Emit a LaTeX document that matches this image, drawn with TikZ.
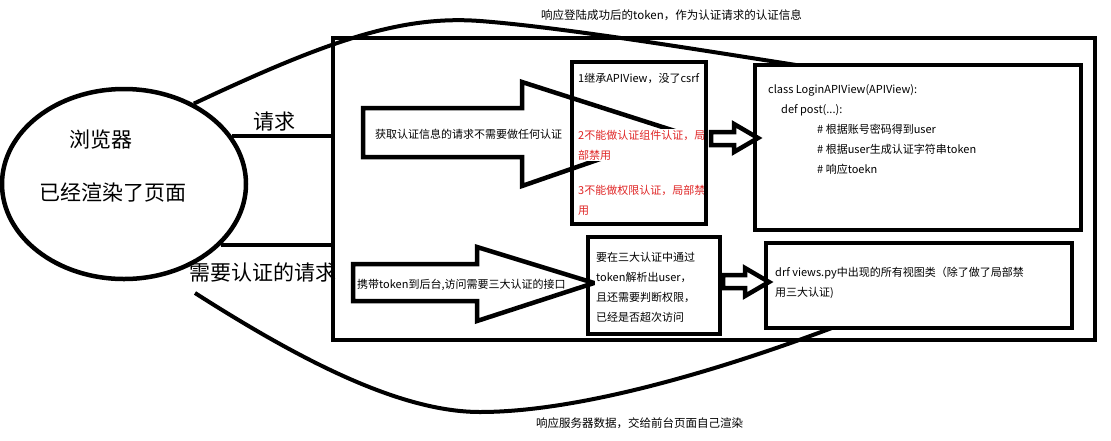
\documentclass[tikz,border=0pt]{standalone}
\usepackage{fontspec}
\setmainfont{Noto Sans CJK SC}
\usetikzlibrary{shapes.geometric,calc}
\definecolor{notered}{RGB}{224,38,38}

\begin{document}
\begin{tikzpicture}[x=1pt,y=1pt,
        box/.style={draw,black,line width=4.5pt,rectangle,outer sep=0pt},
        wire/.style={draw,black,line width=4pt},
        blockarrow/.style={draw,black,line width=4.5pt,line join=miter},
        small/.style={font=\fontsize{11}{20}\selectfont},
        label/.style={font=\fontsize{11.5}{14}\selectfont},
        big/.style={font=\fontsize{21}{25}\selectfont}]
        \tikzstyle{every node}+=[inner sep=0pt]
        \useasboundingbox (0,0) rectangle (1111,-440);
        \node [ellipse,draw,line width=4.5pt,minimum width=244,minimum height=190] (browser) at (124,-184) {};
        \node [box,minimum width=762,minimum height=302] (server) at (714,-189) {};
        \node [box,minimum width=134,minimum height=162] (inherit) at (639,-143) {};
        \node [box,minimum width=326,minimum height=165] (login) at (918,-147.5) {};
        \node [box,minimum width=132,minimum height=97] (auth) at (654,-285.5) {};
        \node [box,minimum width=306,minimum height=85] (drf) at (919,-285.5) {};
        \coordinate (renderstart) at (195,-293);
        \coordinate (tokenend) at ($(login.north west)!0.126!(login.north east)$);
        \coordinate (renderend) at ($(drf.south west)!0.215!(drf.south east)$);
        \draw [wire] (browser.24) -- (browser.24 -| server.west);
        \draw [wire] (browser.-32) -- (browser.-32 -| server.west);
        \draw [wire] (browser.49) .. controls (325,-42) and (400,-15) .. (480,-21) .. controls (560,-27) and (700,-50) .. (tokenend);
        \draw [wire] (renderstart) .. controls (300,-360) and (400,-412) .. (480,-412) .. controls (580,-412) and (720,-370) .. (renderend);
        \draw [blockarrow] (363,-108) -- (522,-108) -- (522,-82) -- (678,-132) -- (522,-186) -- (522,-157) -- (363,-157) -- cycle;
        \draw [blockarrow] (353,-264) -- (477,-264) -- (477,-247) -- (594,-283) -- (477,-321) -- (477,-301) -- (353,-301) -- cycle;
        \draw [blockarrow] (711,-132) -- (734,-132) -- (734,-124) -- (758,-138) -- (734,-152) -- (734,-145) -- (711,-145) -- cycle;
        \draw [blockarrow] (723,-275) -- (745,-275) -- (745,-268) -- (769,-282) -- (745,-296) -- (745,-288) -- (723,-288) -- cycle;
        \node [big] (browsertitle) at (101,-140) {浏览器};
        \node [big] (browserstate) at (113,-193) {已经渲染了页面};
        \node [big] (reqlabel) at (274,-122) {请求};
        \node [big] (authlabel) at (263,-272) {需要认证的请求};
        \node [label,anchor=west] (tokenlabel) at (541,-15) {响应登陆成功后的token，作为认证请求的认证信息};
        \node [label,anchor=west] (renderlabel) at (536,-423) {响应服务器数据，交给前台页面自己渲染};
        \node [small,anchor=west] (freenote) at (375,-134) {获取认证信息的请求不需要做任何认证};
        \node [small,anchor=west] (tokennote) at (357,-285) {携带token到后台,访问需要三大认证的接口};
        \node [small,anchor=west] (inheritnote) at (578,-78) {1继承APIView，没了csrf};
        \node [small,text=notered,fill=white,inner sep=1pt,align=left,anchor=north west] (authnote) at (577,-129) {2不能做认证组件认证，局\\部禁用};
        \node [small,text=notered,fill=white,inner sep=1pt,align=left,anchor=north west] (permnote) at (577,-184) {3不能做权限认证，局部禁\\用};
        \node [small,fill=white,inner sep=1pt,align=left,anchor=north west] (authsteps) at (595,-251) {要在三大认证中通过\\token解析出user，\\且还需要判断权限，\\已经是否超次访问};
        \node [small,align=left,anchor=north west] (logincode) at (768,-84) {class LoginAPIView(APIView):\\\hspace*{13pt}def post(...):\\\hspace*{49pt}\# 根据账号密码得到user\\\hspace*{49pt}\# 根据user生成认证字符串token\\\hspace*{49pt}\# 响应toekn};
        \node [small,align=left,anchor=north west] (drfnote) at (775,-267) {drf views.py中出现的所有视图类（除了做了局部禁\\用三大认证)};
        \draw [box] (inherit.north west) rectangle (inherit.south east);
        \draw [box] (auth.north west) rectangle (auth.south east);
\end{tikzpicture}
\end{document}
